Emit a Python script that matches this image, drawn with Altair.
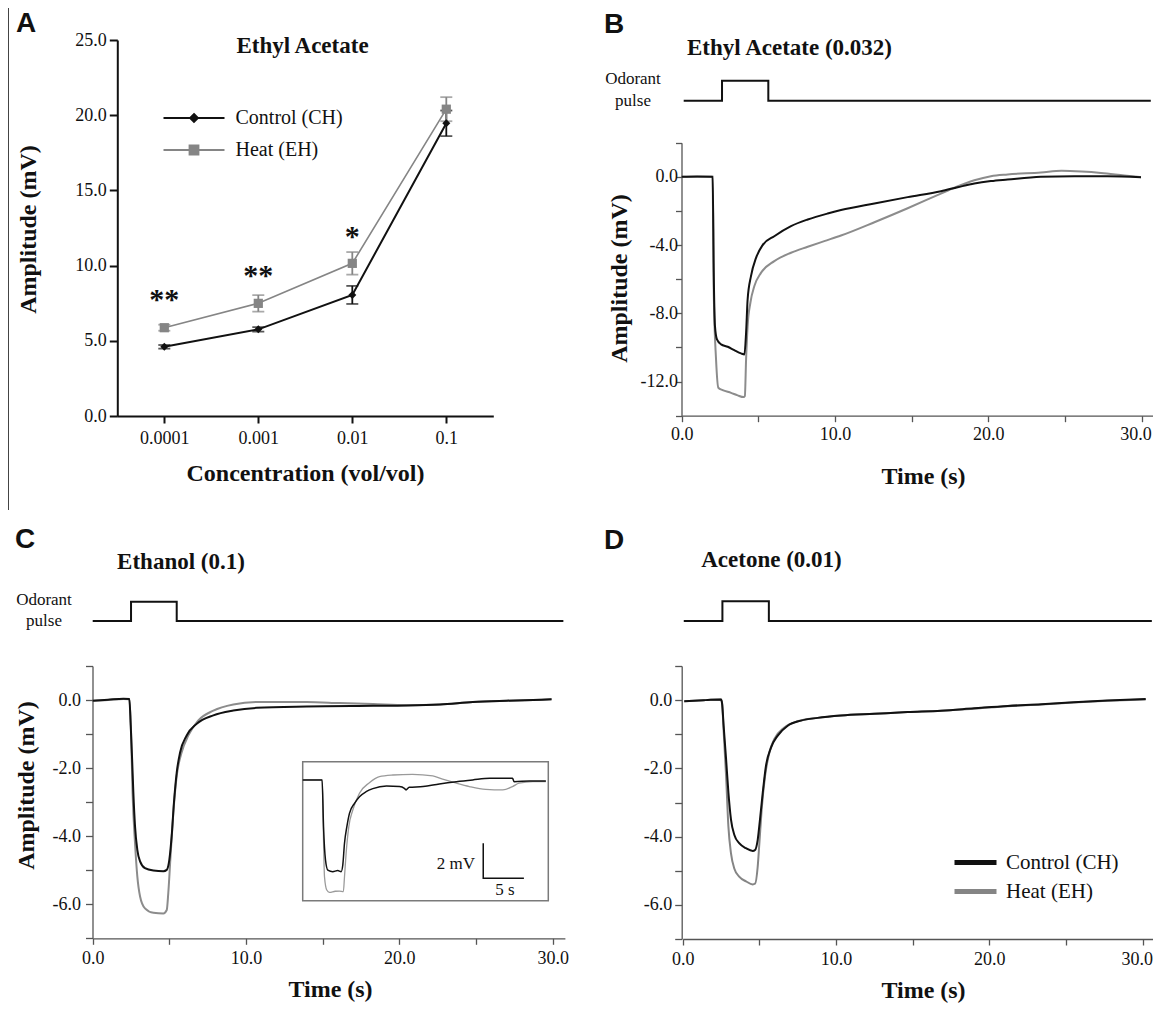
import altair as alt
import pandas as pd

SERIF = "Liberation Serif"
SANS = "Liberation Sans"
W, H = 1145, 996
INK = "#111111"
GRAY = "#8c8c8c"
AGRAY = "#858585"
AXG = "#555555"
MINUS = "\u2212"

series_names = ["Control (CH)", "Heat (EH)"]

# ---------------- Panel A : dose response ----------------
conc = ["0.0001", "0.001", "0.01", "0.1"]
ctrl_mean = [4.6, 5.76, 8.05, 19.46]
ctrl_sem = [0.12, 0.15, 0.6, 0.85]
heat_mean = [5.87, 7.49, 10.15, 20.4]
heat_sem = [0.2, 0.55, 0.75, 0.8]
sig_conc = ["0.0001", "0.001", "0.01"]
sig_text = ["**", "**", "*"]
sig_y = [7.1, 8.7, 11.3]

# ---------------- Panel B : ethyl acetate (0.032) ----------------
b_ctrl_t = [0.0, 1.0, 2.02, 2.09, 2.17, 2.3, 2.57, 3.0, 3.43, 3.87, 4.09, 4.2, 4.3, 4.52, 4.85, 5.28,
            6.04, 7.13, 8.22, 9.52, 10.39, 12.57, 14.74, 16.91, 18.0, 19.09, 20.17, 21.26, 23.43, 25.6,
            27.78, 29.96]
b_ctrl_v = [0.0, 0.02, 0.0, -5.6, -8.75, -9.53, -9.82, -9.96, -10.16, -10.35, -10.41, -9.14, -7.19,
            -5.82, -4.75, -4.0, -3.48, -2.89, -2.5, -2.15, -1.95, -1.56, -1.19, -0.84, -0.61, -0.39,
            -0.25, -0.16, 0.0, 0.04, 0.04, -0.02]
b_heat_t = [0.0, 1.0, 2.02, 2.09, 2.24, 2.39, 2.67, 3.22, 3.65, 4.04, 4.12, 4.2, 4.3, 4.48, 4.74, 5.17,
            6.04, 7.13, 8.22, 9.3, 10.39, 12.57, 14.74, 16.91, 17.78, 19.09, 20.17, 21.26, 23.43, 24.78,
            26.09, 27.35, 28.87, 29.96]
b_heat_v = [0.0, 0.01, 0.0, -6.8, -10.7, -12.36, -12.5, -12.66, -12.81, -12.91, -12.85, -10.7, -8.75,
            -7.38, -6.4, -5.63, -4.94, -4.45, -4.1, -3.77, -3.44, -2.66, -1.84, -0.98, -0.64, -0.2,
            0.04, 0.14, 0.25, 0.35, 0.31, 0.23, 0.08, -0.02]
b_pulse_t = [0.13, 2.63, 2.63, 5.65, 5.65, 30.6]

# ---------------- Panel C : ethanol (0.1) ----------------
c_ctrl_t = [0.0, 1.0, 2.0, 2.39, 2.48, 2.57, 2.65, 2.76, 2.91, 3.09, 3.41, 3.96, 4.61, 4.83, 5.0, 5.15,
            5.3, 5.48, 5.7, 6.13, 6.78, 7.87, 9.17, 10.7, 13.96, 18.3, 20.5, 22.65, 24.8, 27.0, 29.93]
c_ctrl_v = [-0.02, 0.01, 0.04, 0.03, -0.75, -1.73, -2.7, -3.7, -4.4, -4.74, -4.94, -5.01, -5.03, -4.99,
            -4.69, -4.0, -3.01, -2.13, -1.54, -1.04, -0.7, -0.45, -0.31, -0.23, -0.19, -0.17, -0.16,
            -0.13, -0.06, -0.02, 0.02]
c_heat_t = [0.0, 1.0, 2.0, 2.39, 2.5, 2.6, 2.76, 2.91, 3.09, 3.41, 3.96, 4.61, 4.83, 4.93, 5.09, 5.26,
            5.48, 5.8, 6.24, 6.89, 7.87, 9.17, 10.7, 13.96, 16.1, 18.3, 20.5, 22.65, 24.8, 27.0, 29.93]
c_heat_v = [-0.02, 0.0, 0.03, 0.02, -0.9, -2.72, -4.2, -5.18, -5.77, -6.12, -6.25, -6.27, -6.17, -5.67,
            -4.49, -3.31, -2.23, -1.54, -1.04, -0.6, -0.31, -0.13, -0.06, -0.06, -0.09, -0.12, -0.15,
            -0.13, -0.06, -0.02, 0.02]
c_pulse_t = [0.0, 2.5, 2.5, 5.48, 5.48, 30.7]

# inset of panel C
inset_t_dom = [0.0, 30.2]
inset_v_dom = [-6.84, 1.1]
ins_ctrl_t = [0.0, 2.39, 2.56, 2.8, 3.09, 3.7, 4.3, 4.73, 4.93, 5.14, 5.43, 5.75, 6.37, 6.98, 7.8, 8.62,
              10.3, 11.9, 12.5, 12.7, 13.1, 14.8, 16.8, 18.9, 20.9, 23.0, 25.8, 26.0, 27.9, 29.9]
ins_ctrl_v = [0.06, 0.06, -2.6, -4.5, -5.09, -5.18, -5.12, -5.18, -4.8, -3.56, -2.61, -1.85, -1.28,
              -0.9, -0.61, -0.44, -0.29, -0.32, -0.42, -0.51, -0.36, -0.32, -0.17, -0.04, 0.06, 0.15,
              0.15, -0.04, 0.0, 0.0]
ins_heat_t = [0.0, 2.39, 2.5, 2.68, 2.96, 3.29, 4.0, 4.52, 5.0, 5.14, 5.34, 5.67, 6.16, 6.98, 8.2, 9.44,
              11.1, 13.5, 16.0, 17.2, 18.9, 20.5, 22.5, 24.6, 25.8, 26.6, 28.3, 29.9]
ins_heat_v = [0.06, 0.06, -2.0, -5.47, -6.23, -6.36, -6.3, -6.29, -6.32, -5.47, -4.13, -2.61, -1.66,
              -0.7, -0.1, 0.25, 0.34, 0.38, 0.29, 0.1, -0.13, -0.32, -0.48, -0.51, -0.32, -0.13, -0.04,
              -0.04]
scalebar_t = [22.2, 22.2, 27.2]      # 5 s horizontal bar
scalebar_v = [-3.56, -5.56, -5.56]   # 2 mV vertical bar

# ---------------- Panel D : acetone (0.01) ----------------
d_ctrl_t = [0.1, 1.5, 2.5, 2.57, 2.67, 2.83, 2.98, 3.15, 3.37, 3.7, 4.13, 4.57, 4.72, 4.89, 5.04, 5.22,
            5.43, 5.76, 6.2, 6.85, 7.72, 8.8, 10.33, 12.5, 14.67, 16.85, 19.0, 21.2, 23.4, 25.5, 27.7, 30.2]
d_ctrl_v = [-0.03, 0.0, 0.02, -0.1, -0.75, -1.73, -2.7, -3.5, -3.95, -4.2, -4.34, -4.42, -4.39, -4.1,
            -3.5, -2.72, -1.93, -1.39, -1.04, -0.75, -0.6, -0.52, -0.45, -0.4, -0.35, -0.31, -0.24,
            -0.17, -0.12, -0.06, -0.01, 0.03]
d_heat_t = [0.1, 1.5, 2.5, 2.57, 2.67, 2.83, 2.98, 3.15, 3.37, 3.7, 4.13, 4.57, 4.72, 4.89, 5.0, 5.15,
            5.37, 5.65, 5.98, 6.63, 7.5, 8.8, 10.33, 12.5, 14.67, 16.85, 19.0, 21.2, 23.4, 25.5, 27.7, 30.2]
d_heat_v = [-0.03, 0.0, 0.02, -0.1, -0.9, -2.23, -3.7, -4.49, -4.94, -5.18, -5.31, -5.4, -5.38, -4.89,
            -4.2, -3.21, -2.23, -1.54, -1.14, -0.8, -0.62, -0.52, -0.45, -0.4, -0.35, -0.31, -0.25,
            -0.18, -0.13, -0.07, -0.02, 0.02]
d_pulse_t = [0.07, 2.59, 2.59, 5.62, 5.62, 30.6]
pulse_level = [0, 0, 1, 1, 0, 0]


# ---------------- helpers ----------------
def sc(domain, rng):
    return alt.Scale(domain=domain, range=rng, nice=False, zero=False)


def fix_minus(expr):
    return "replace(" + expr + ", '" + MINUS + "', '-')"


def axis(orient, pos, values=None, title=None, tx=0, ty=0, label_expr=None, fmt=None, color=AXG,
         width=1.3, tick=6, pad=4, lsize=18, last_shift=False):
    kw = dict(orient=orient, offset=(pos - H) if orient == "bottom" else -pos,
              domainColor=color, domainWidth=width, tickColor=color, tickWidth=width, tickSize=tick,
              labelPadding=pad, labelFont=SERIF, labelFontSize=lsize, labelColor=INK, labelAngle=0,
              labelOverlap=False, labelFlush=False, grid=False)
    if values is not None:
        kw["values"] = values
    if label_expr:
        kw["labelExpr"] = label_expr
    if fmt:
        kw["format"] = fmt
    if last_shift:
        kw["labelOffset"] = {"condition": {"test": "datum.value >= 30", "value": -6}, "value": 0}
    if title:
        kw.update(title=title, titleX=tx, titleY=ty, titleFont=SERIF, titleFontSize=24,
                  titleFontWeight="bold", titleColor=INK, titleAlign="center",
                  titleBaseline="middle", titleAngle=0 if orient == "bottom" else 270)
    else:
        kw["title"] = None
    return alt.Axis(**kw)


def tdf(t, v, series=None):
    d = pd.DataFrame({"t": t, "v": v, "i": list(range(len(t)))})
    if series is not None:
        d["series"] = series
    return d


def label(s, x, y, size, bold=False, font=SERIF, align="center", baseline="middle"):
    return alt.Chart(pd.DataFrame({"s": [s]})).mark_text(
        font=font, fontSize=size, fontWeight="bold" if bold else "normal", align=align,
        baseline=baseline, color=INK
    ).encode(text="s:N", x=alt.value(x), y=alt.value(y))


def trace(t, v, xs, ys, color, width=2.0, xaxis=None, yaxis=None, interp="monotone"):
    return alt.Chart(tdf(t, v)).mark_line(color=color, strokeWidth=width, interpolate=interp).encode(
        x=alt.X("t:Q", scale=xs, axis=xaxis), y=alt.Y("v:Q", scale=ys, axis=yaxis), order="i:Q")


time_ticks = [0, 5, 10, 15, 20, 25, 30]
time_expr = "datum.value % 10 == 0 ? format(datum.value, '.1f') : ''"
units = []

# left border line of the original figure
units.append(alt.Chart(pd.DataFrame({"k": [0]})).mark_rule(color="#444444", strokeWidth=1).encode(
    x=alt.value(0.5), y=alt.value(0), y2=alt.value(502)))

# ---------------- Panel A ----------------
dfA = pd.DataFrame({
    "conc": conc + conc,
    "series": [series_names[0]] * 4 + [series_names[1]] * 4,
    "amp": ctrl_mean + heat_mean,
    "sem": ctrl_sem + heat_sem,
})
dfA["lo"] = dfA["amp"] - dfA["sem"]
dfA["hi"] = dfA["amp"] + dfA["sem"]


def scAx():
    return alt.Scale(type="point", domain=conc, range=[109.3, 485.3], padding=0.5)


def scAy():
    return sc([0, 25], [408, 32])


def colA(legend=None):
    return alt.Color("series:N", scale=alt.Scale(domain=series_names, range=[INK, AGRAY]), legend=legend)


axAx = axis("bottom", 408, title="Concentration (vol/vol)", tx=297, ty=57, color="#111", width=2,
            tick=7, pad=6)
axAy = axis("left", 109.3, values=[0, 5, 10, 15, 20, 25], fmt=".1f", title="Amplitude (mV)", tx=-89,
            ty=221, color="#111", width=2, tick=8, pad=3)

baseA = alt.Chart(dfA)
ctrl_f = alt.datum.series == series_names[0]
heat_f = alt.datum.series == series_names[1]

units.append(baseA.transform_filter(heat_f).mark_line(strokeWidth=1.6).encode(
    x=alt.X("conc:O", scale=scAx(), axis=axAx), y=alt.Y("amp:Q", scale=scAy(), axis=axAy), color=colA()))
units.append(baseA.transform_filter(ctrl_f).mark_line(strokeWidth=2).encode(
    x=alt.X("conc:O", scale=scAx(), axis=None), y=alt.Y("amp:Q", scale=scAy(), axis=None), color=colA()))
units.append(baseA.mark_rule(strokeWidth=1.8).encode(
    x=alt.X("conc:O", scale=scAx(), axis=None), y=alt.Y("lo:Q", scale=scAy(), axis=None), y2="hi:Q",
    color=colA()))
for fld in ["lo", "hi"]:
    units.append(baseA.mark_tick(orient="horizontal", size=12, thickness=1.8).encode(
        x=alt.X("conc:O", scale=scAx(), axis=None), y=alt.Y(fld + ":Q", scale=scAy(), axis=None),
        color=colA()))
units.append(baseA.transform_filter(heat_f).mark_point(shape="square", filled=True, size=85,
                                                       opacity=1).encode(
    x=alt.X("conc:O", scale=scAx(), axis=None), y=alt.Y("amp:Q", scale=scAy(), axis=None), color=colA()))
units.append(baseA.transform_filter(ctrl_f).mark_point(shape="diamond", filled=True, size=64,
                                                       opacity=1).encode(
    x=alt.X("conc:O", scale=scAx(), axis=None), y=alt.Y("amp:Q", scale=scAy(), axis=None), color=colA()))

legA = alt.Legend(orient="none", legendX=206.5, legendY=100, title=None, symbolSize=100,
                  symbolStrokeWidth=1.8, symbolOpacity=1, labelFont=SERIF, labelFontSize=20,
                  labelColor=INK, labelOffset=1, rowPadding=12, padding=0)
path_ctrl = "M-12.2,0L0,0M-6.1,-0.8L-5.3,0L-6.1,0.8L-6.9,0Z"
path_heat = "M-12.2,0L0,0M-7,-0.9L-5.2,-0.9L-5.2,0.9L-7,0.9Z"
units.append(baseA.transform_filter("false").mark_point(filled=True).encode(
    x=alt.X("conc:O", scale=scAx(), axis=None), y=alt.Y("amp:Q", scale=scAy(), axis=None),
    color=alt.Color("series:N", scale=alt.Scale(domain=series_names, range=[INK, AGRAY]), legend=legA),
    stroke=alt.Stroke("series:N", scale=alt.Scale(domain=series_names, range=[INK, AGRAY]), legend=legA),
    shape=alt.Shape("series:N", scale=alt.Scale(domain=series_names, range=[path_ctrl, path_heat]),
                    legend=legA)))

dfSig = pd.DataFrame({"conc": sig_conc, "s": sig_text, "y": sig_y})
units.append(alt.Chart(dfSig).mark_text(font=SERIF, fontSize=30, fontWeight="bold",
                                        baseline="alphabetic", color=INK).encode(
    x=alt.X("conc:O", scale=scAx(), axis=None), y=alt.Y("y:Q", scale=scAy(), axis=None), text="s:N"))

# ---------------- Panel B ----------------
scBx = sc([0, 30.75], [673.7, 1145.1])
scBy = sc([-14, 2], [407.7, 134.7])
axBx = axis("bottom", 407.7, values=time_ticks, label_expr=time_expr, title="Time (s)", tx=915, ty=61,
            pad=4, last_shift=True)
axBy = axis("left", 673.5, values=list(range(-14, 3, 2)),
            label_expr="datum.value % 4 == 0 ? " + fix_minus("format(datum.value, '.1f')") + " : ''",
            title="Amplitude (mV)", tx=-62.5, ty=270, pad=-2, tick=6)
units.append(trace(b_pulse_t, pulse_level, scBx, sc([0, 1], [92.7, 72.7]), INK, interp="linear"))
units.append(trace(b_heat_t, b_heat_v, scBx, scBy, GRAY, xaxis=axBx, yaxis=axBy))
units.append(trace(b_ctrl_t, b_ctrl_v, scBx, scBy, INK))

# ---------------- Panel C ----------------
scCx = sc([0, 30.8], [84.7, 556.9])
scCy = sc([-7, 1], [930.3, 658])
axCx = axis("bottom", 930.3, values=time_ticks, label_expr=time_expr, title="Time (s)", tx=322, ty=51,
            pad=5)
axCy = axis("left", 84.5, values=list(range(-7, 2)),
            label_expr="datum.value % 2 == 0 ? " + fix_minus("format(datum.value, '.1f')") + " : ''",
            title="Amplitude (mV)", tx=-66.5, ty=777, pad=5, tick=7)
units.append(trace(c_pulse_t, pulse_level, scCx, sc([0, 1], [613, 593.7]), INK, interp="linear"))
units.append(trace(c_heat_t, c_heat_v, scCx, scCy, GRAY, xaxis=axCx, yaxis=axCy))
units.append(trace(c_ctrl_t, c_ctrl_v, scCx, scCy, INK))

# inset
scIx = sc(inset_t_dom, [294.7, 540.3])
scIy = sc(inset_v_dom, [892.7, 753.7])
frame_df = pd.DataFrame({"t0": [inset_t_dom[0]], "t1": [inset_t_dom[1]],
                         "v0": [inset_v_dom[0]], "v1": [inset_v_dom[1]]})
units.append(alt.Chart(frame_df).mark_rect(fill="white", stroke="#7a7a7a", strokeWidth=1.5).encode(
    x=alt.X("t0:Q", scale=scIx, axis=None), x2="t1:Q",
    y=alt.Y("v0:Q", scale=scIy, axis=None), y2="v1:Q"))
units.append(trace(ins_heat_t, ins_heat_v, scIx, scIy, "#9a9a9a", width=1.3))
units.append(trace(ins_ctrl_t, ins_ctrl_v, scIx, scIy, INK, width=1.5))
units.append(trace(scalebar_t, scalebar_v, scIx, scIy, INK, width=1.5, interp="linear"))

# ---------------- Panel D ----------------
scDx = sc([0, 30.8], [674.7, 1146.9])
scDy = sc([-7, 1], [931, 658])
axDx = axis("bottom", 931, values=time_ticks, label_expr=time_expr, title="Time (s)", tx=915, ty=51,
            pad=5, last_shift=True)
axDy = axis("left", 673.7, values=list(range(-7, 2)),
            label_expr="datum.value % 2 == 0 ? " + fix_minus("format(datum.value, '.1f')") + " : ''",
            pad=3, tick=7)
legD = alt.Legend(orient="none", legendX=973, legendY=844, title=None, symbolType="M-7.4,0L1,0",
                  symbolSize=100, symbolStrokeWidth=5, labelFont=SERIF, labelFontSize=21,
                  labelColor=INK, labelOffset=4, rowPadding=7, padding=0)
units.append(trace(d_pulse_t, pulse_level, scDx, sc([0, 1], [613, 593.3]), INK, interp="linear"))
units.append(alt.Chart(tdf(d_heat_t, d_heat_v, series_names[1])).mark_line(
    strokeWidth=2, interpolate="monotone").encode(
    x=alt.X("t:Q", scale=scDx, axis=axDx), y=alt.Y("v:Q", scale=scDy, axis=axDy),
    color=alt.Color("series:N", scale=alt.Scale(domain=series_names, range=[INK, AGRAY]), legend=legD),
    order="i:Q"))
units.append(trace(d_ctrl_t, d_ctrl_v, scDx, scDy, INK))

# ---------------- text annotations ----------------
units += [
    label("A", 8, 24, 28, bold=True, font=SANS, align="left", baseline="alphabetic"),
    label("B", 596, 25, 28, bold=True, font=SANS, align="left", baseline="alphabetic"),
    label("C", 7, 540, 28, bold=True, font=SANS, align="left", baseline="alphabetic"),
    label("D", 596, 541, 28, bold=True, font=SANS, align="left", baseline="alphabetic"),
    label("Ethyl Acetate", 294.5, 38, 23, bold=True),
    label("Ethyl Acetate (0.032)", 781.5, 40, 23, bold=True),
    label("Ethanol (0.1)", 173, 553.5, 23, bold=True),
    label("Acetone (0.01)", 763.5, 552, 23, bold=True),
    label("Odorant", 625, 70.5, 17),
    label("pulse", 625, 92.5, 17),
    label("Odorant", 36, 591.5, 17),
    label("pulse", 36, 613, 17),
    label("2 mV", 467, 855.5, 17, align="right"),
    label("5 s", 497, 882, 17),
]

chart = alt.layer(*units).resolve_scale(
    x="independent", y="independent", color="independent", fill="independent",
    stroke="independent", shape="independent"
).properties(
    width=W, height=H, autosize=alt.AutoSizeParams(type="none"), padding=0
).configure_view(stroke="transparent")

chart.save("out.html", embed_options={"renderer": "svg", "actions": False})
